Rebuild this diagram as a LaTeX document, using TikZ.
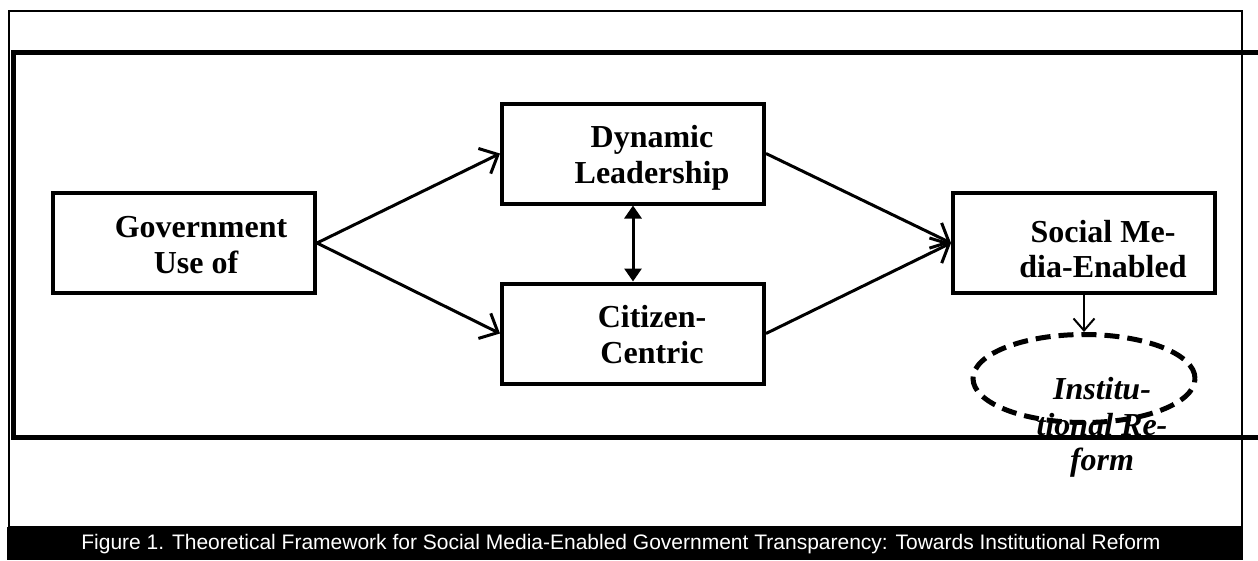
\documentclass[tikz,border=0pt]{standalone}
\usepackage{fontspec}
\setmainfont{Liberation Serif}
\newfontfamily\capfont{Liberation Sans}
\usetikzlibrary{arrows.meta,shapes.geometric}
\tikzset{
  box/.style={draw, line width=4pt, minimum width=262pt, minimum height=100pt, inner sep=0pt},
  lbl/.style={font=\fontsize{32}{36}\selectfont\bfseries, anchor=base, inner sep=0pt},
  ilbl/.style={font=\fontsize{32}{36}\selectfont\bfseries\itshape, anchor=base, inner sep=0pt},
  flow/.style={line width=3pt, -{Straight Barb[length=15pt,width=28pt]}},
  mutual/.style={line width=3pt, {Triangle[length=13pt,width=17pt]}-{Triangle[length=13pt,width=17pt]}},
  thin/.style={line width=2pt, -{Straight Barb[length=12pt,width=21pt]}},
  outcome/.style={draw, ellipse, line width=5pt, dash pattern=on 15pt off 8pt, minimum width=222pt, minimum height=88pt, inner sep=0pt},
}
\begin{document}
\begin{tikzpicture}[x=1pt,y=-1pt]
\useasboundingbox (0,0) rectangle (1258,560);
\clip (0,0) rectangle (1258,560);
% frames
\draw[line width=2pt] (9.3,11) rectangle (1242,527);
\draw[line width=5pt] (1265,52) -- (13.5,52) -- (13.5,437.5) -- (1265,437.5);
% boxes
\node[box] (gov) at (184,243) {};
\node[box] (dyn) at (633,153.5) {};
\node[box] (cit) at (633,333.5) {};
\node[box] (soc) at (1084,243) {};
\node[outcome] (ref) at (1084,378.5) {};
% labels
\node[lbl] (gov1) at (201,237) {Government};
\node[lbl] (gov2) at (196,273) {Use of};
\node[lbl] (dyn1) at (652,147) {Dynamic};
\node[lbl] (dyn2) at (652,183) {Leadership};
\node[lbl] (cit1) at (652,327) {Citizen-};
\node[lbl] (cit2) at (652,363) {Centric};
\node[lbl] (soc1) at (1103,242) {Social Me-};
\node[lbl] (soc2) at (1103,277) {dia-Enabled};
\node[ilbl] (ref1) at (1102,399) {Institu-};
\node[ilbl] (ref2) at (1102,435) {tional Re-};
\node[ilbl] (ref3) at (1102,470) {form};
% connectors
\draw[flow] (gov.east) -- (dyn.west);
\draw[flow] (gov.east) -- (cit.west);
\draw[flow] (dyn.east) -- (soc.west);
\draw[flow] (cit.east) -- (soc.west);
\draw[mutual] (dyn.south) -- (cit.north);
\draw[thin] (soc.south) -- (ref.north);
% caption
\fill (7,527) rectangle (1243,560);
\node[font=\capfont\fontsize{21}{25}\selectfont, text=white, anchor=base, inner sep=0pt] (cap) at (621,549) {Figure 1. Theoretical Framework for Social Media-Enabled Government Transparency: Towards Institutional Reform};
\end{tikzpicture}
\end{document}
